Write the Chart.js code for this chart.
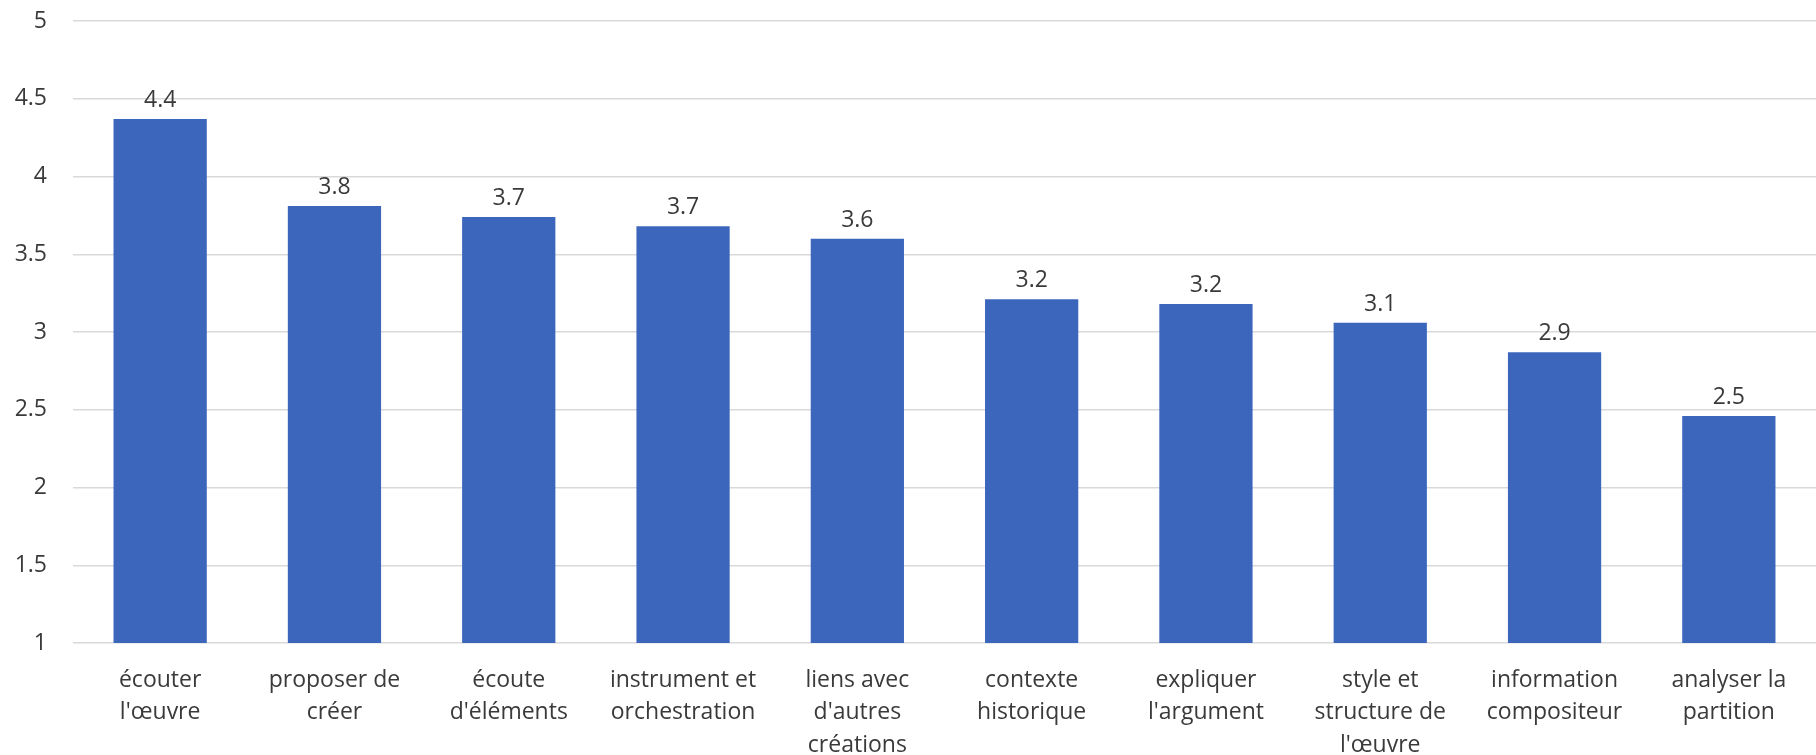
<!DOCTYPE html>
<html lang="fr">
<head>
<meta charset="utf-8">
<title>Moyennes</title>
<script src="https://cdn.jsdelivr.net/npm/chart.js@4/dist/chart.umd.min.js"></script>
<style>
  html, body { margin: 0; padding: 0; background: #ffffff; }
  #wrap { width: 1816px; height: 755px; position: relative; }
</style>
</head>
<body>
<div id="wrap"><canvas id="chart"></canvas></div>
<script>
const categories = [
  ["écouter", "l'œuvre"],
  ["proposer de", "créer"],
  ["écoute", "d'éléments"],
  ["instrument et", "orchestration"],
  ["liens avec", "d'autres", "créations"],
  ["contexte", "historique"],
  ["expliquer", "l'argument"],
  ["style et", "structure de", "l'œuvre"],
  ["information", "compositeur"],
  ["analyser la", "partition"],
];
const values = [4.37, 3.81, 3.74, 3.68, 3.6, 3.21, 3.18, 3.06, 2.87, 2.46];
const Y_MIN = 1;
const Y_MAX = 5;
const Y_STEP = 0.5;

const BAR_COLOR = "#3b66bc";
const TEXT_COLOR = "#3a3a3a";
const FONT = "'Open Sans', 'DejaVu Sans', sans-serif";

// draws the value above each bar
const valueLabels = {
  id: "valueLabels",
  afterDatasetsDraw(chart) {
    const ctx = chart.ctx;
    const meta = chart.getDatasetMeta(0);
    ctx.save();
    ctx.font = `23px ${FONT}`;
    ctx.fillStyle = TEXT_COLOR;
    ctx.textAlign = "center";
    ctx.textBaseline = "alphabetic";
    meta.data.forEach((bar, i) => {
      ctx.fillText(values[i].toFixed(1), bar.x, bar.y - 12);
    });
    ctx.restore();
  },
};

new Chart(document.getElementById("chart"), {
  type: "bar",
  data: {
    labels: categories,
    datasets: [
      {
        data: values,
        backgroundColor: BAR_COLOR,
        borderWidth: 0,
        barPercentage: 0.535,
        categoryPercentage: 1,
      },
    ],
  },
  options: {
    responsive: true,
    maintainAspectRatio: false,
    animation: false,
    layout: { padding: { top: 21, right: 0, bottom: 0, left: 0 } },
    plugins: {
      legend: { display: false },
      tooltip: { enabled: false },
    },
    scales: {
      x: {
        afterFit(scale) {
          scale.height = 112;
          scale.paddingLeft = 0;
          scale.paddingRight = 0;
        },
        grid: { display: false, drawTicks: false },
        border: { display: false },
        ticks: {
          color: TEXT_COLOR,
          font: { family: FONT, size: 23, lineHeight: 1.41 },
          padding: 21,
          maxRotation: 0,
          minRotation: 0,
          autoSkip: false,
        },
      },
      y: {
        min: Y_MIN,
        max: Y_MAX,
        afterFit(scale) {
          scale.width = 73;
          scale.paddingTop = 0;
          scale.paddingBottom = 0;
        },
        grid: { color: "#d9d9d9", lineWidth: 1.5, drawTicks: false },
        border: { display: false },
        ticks: {
          stepSize: Y_STEP,
          color: TEXT_COLOR,
          font: { family: FONT, size: 23 },
          padding: 26,
          callback: (v) => String(v),
        },
      },
    },
  },
  plugins: [valueLabels],
});
</script>
</body>
</html>
